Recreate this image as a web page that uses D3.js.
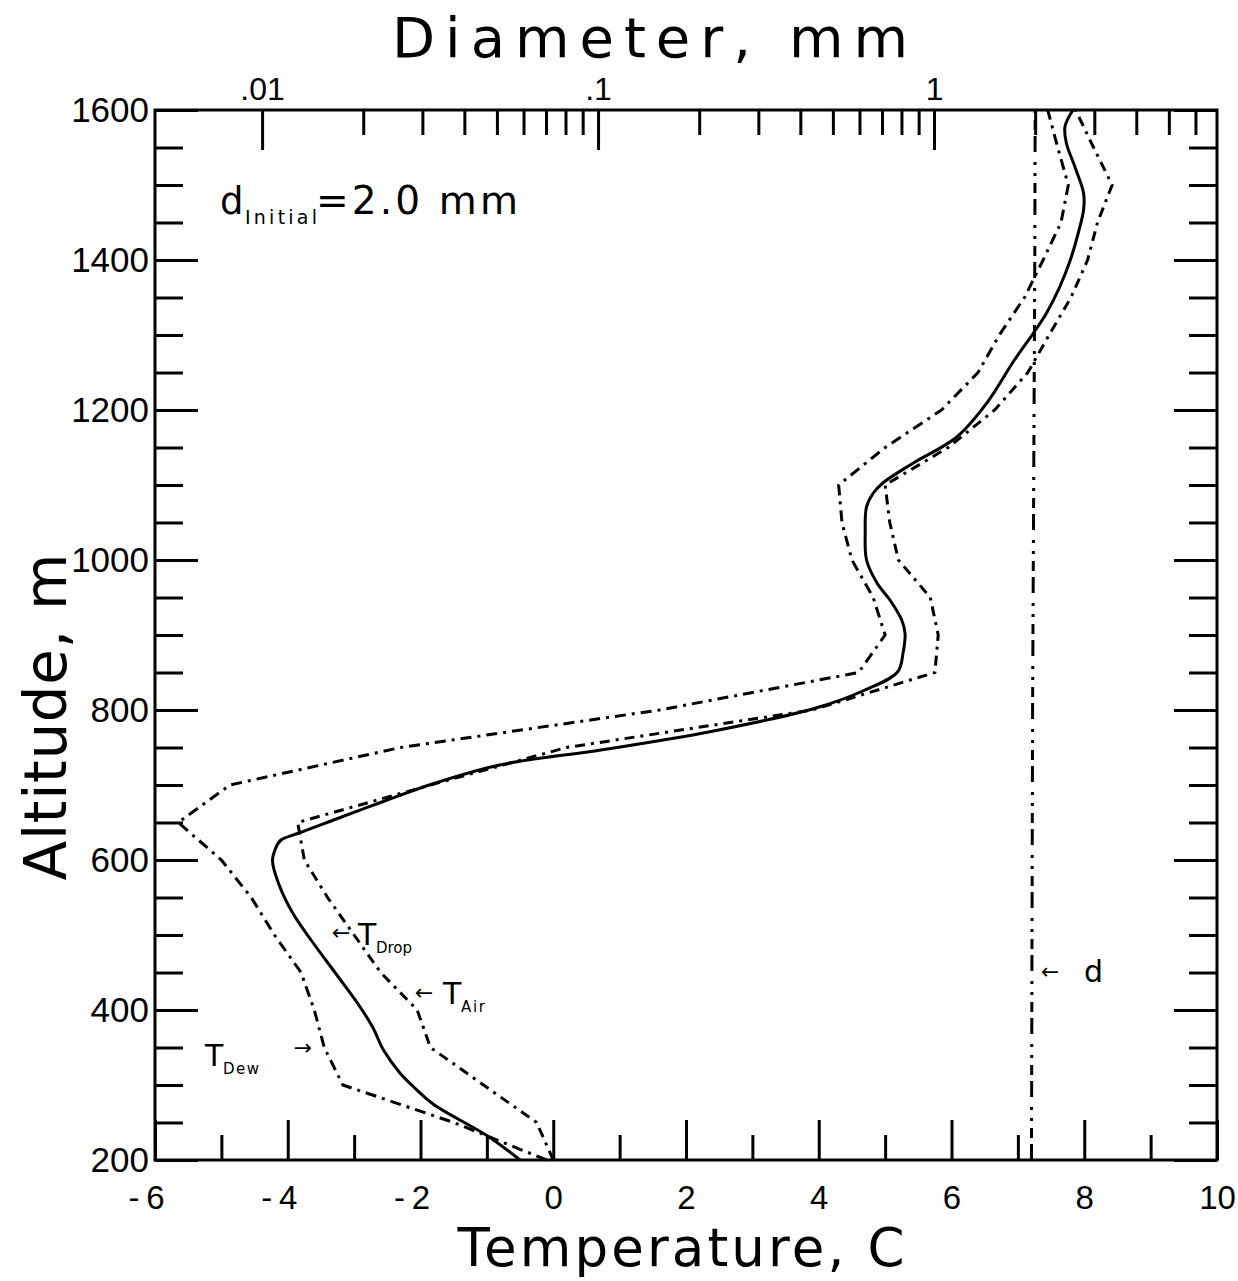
<!DOCTYPE html>
<html><head><meta charset="utf-8">
<script src="https://cdn.jsdelivr.net/npm/d3@7"></script>
<style>body{margin:0;background:#fff}</style>
</head><body>
<svg id="chart" width="1238" height="1281"></svg>
<script>
// ---------------- data ----------------
const altitudes = [200,250,300,350,400,450,500,550,600,650,700,750,800,850,900,950,1000,1050,1100,1150,1200,1250,1300,1350,1400,1450,1500,1550,1600];
const tAir = [0.0,-0.25,-1.05,-1.85,-2.05,-2.6,-3.0,-3.4,-3.75,-3.85,-1.85,0.2,3.9,5.75,5.8,5.68,5.2,5.07,5.0,5.95,6.65,7.15,7.47,7.8,8.05,8.2,8.42,8.14,7.87];
const tDew = [-0.1,-1.5,-3.17,-3.45,-3.6,-3.8,-4.2,-4.55,-5.0,-5.65,-4.87,-2.3,1.6,4.6,5.0,4.82,4.5,4.35,4.3,5.0,5.85,6.4,6.72,7.1,7.38,7.65,7.76,7.6,7.45];
const dropAlt = [200,232,274,298,316,347,377,404,449,491,530,569,599,614,626,636,653,678,702,727,747,771,803,826,851,876,902,920,947,969,1000,1036,1071,1089,1103,1129,1164,1209,1267,1302,1329,1364,1400,1436,1467,1489,1524,1556,1578,1600];
const dropTemp = [-0.5,-0.99,-1.8,-2.11,-2.31,-2.56,-2.72,-2.91,-3.28,-3.63,-3.93,-4.14,-4.23,-4.19,-4.11,-3.83,-3.32,-2.56,-1.8,-0.79,0.74,2.36,3.97,4.68,5.19,5.27,5.3,5.25,5.07,4.88,4.72,4.7,4.72,4.82,4.97,5.42,6.08,6.53,6.95,7.23,7.43,7.63,7.79,7.91,7.99,7.99,7.86,7.73,7.71,7.83];
const diamAlt = [200,400,600,800,1000,1200,1400,1600];
const diamVal = [1.95,1.955,1.96,1.965,1.975,1.985,1.995,2.0];

const tempDomain = [-6,10];
const altDomain = [200,1600];
const diamDomain = [0.0048,6.955];
const tempTicks = d3.range(-6,11,1);
const tempLabels = [-6,-4,-2,0,2,4,6,8,10];
const altTicks = d3.range(200,1601,50);
const altLabels = [200,400,600,800,1000,1200,1400,1600];
const diamTicks = [0.01,0.02,0.03,0.04,0.05,0.06,0.07,0.08,0.09,0.1,0.2,0.3,0.4,0.5,0.6,0.7,0.8,0.9,1,2,3,4,5,6];
const diamLabels = [0.01,0.1,1];
const diamLabelText = [".01",".1","1"];

// ---------------- layout ----------------
const L = 155, R = 1217, T = 110, B = 1160;
const MAJ = 40, MIN = 25;
const svg = d3.select("#chart");
const x = d3.scaleLinear().domain(tempDomain).range([L,R]);
const y = d3.scaleLinear().domain(altDomain).range([B,T]);
const xd = d3.scaleLog().domain(diamDomain).range([L,R]);

const tickFont = "'Liberation Sans', Arial, sans-serif";
const titleFont = "'DejaVu Sans', sans-serif";

function styleAxis(g, size){
  g.select(".domain").remove();
  g.selectAll(".tick line").attr("stroke","#000").attr("stroke-width",3);
  g.selectAll("text").attr("font-family",tickFont).attr("font-size",size||35).attr("fill","#000");
}

// bottom axis
svg.append("g").attr("transform",`translate(0,${B})`)
  .call(d3.axisBottom(x).tickValues(tempTicks.filter(d=>!tempLabels.includes(d))).tickSizeInner(-MIN).tickSizeOuter(0).tickFormat(""))
  .call(styleAxis);
svg.append("g").attr("transform",`translate(0,${B})`)
  .call(d3.axisBottom(x).tickValues(tempLabels).tickSizeInner(-MAJ).tickSizeOuter(0).tickPadding(26)
        .tickFormat(d=> d<0 ? "-\u2009"+Math.abs(d) : String(d)))
  .call(g=>styleAxis(g,33))
  .call(g=>g.selectAll("text").attr("dx",d=>d<0?-9:0));

// left axis
svg.append("g").attr("transform",`translate(${L},0)`)
  .call(d3.axisLeft(y).tickValues(altTicks.filter(d=>!altLabels.includes(d))).tickSizeInner(-MIN-3).tickSizeOuter(0).tickFormat(""))
  .call(styleAxis);
svg.append("g").attr("transform",`translate(${L},0)`)
  .call(d3.axisLeft(y).tickValues(altLabels).tickSizeInner(-MAJ-3).tickSizeOuter(0).tickPadding(6).tickFormat(d3.format("d")))
  .call(styleAxis);

// right axis
svg.append("g").attr("transform",`translate(${R},0)`)
  .call(d3.axisRight(y).tickValues(altTicks.filter(d=>!altLabels.includes(d))).tickSizeInner(-MIN-3).tickSizeOuter(0).tickFormat(""))
  .call(styleAxis);
svg.append("g").attr("transform",`translate(${R},0)`)
  .call(d3.axisRight(y).tickValues(altLabels).tickSizeInner(-MAJ-3).tickSizeOuter(0).tickFormat(""))
  .call(styleAxis);

// top axis (log)
svg.append("g").attr("transform",`translate(0,${T})`)
  .call(d3.axisTop(xd).tickValues(diamTicks.filter(d=>!diamLabels.includes(d))).tickSizeInner(-MIN).tickSizeOuter(0).tickFormat(""))
  .call(styleAxis);
svg.append("g").attr("transform",`translate(0,${T})`)
  .call(d3.axisTop(xd).tickValues(diamLabels).tickSizeInner(-MAJ).tickSizeOuter(0).tickPadding(10)
        .tickFormat((d,i)=>diamLabelText[i]))
  .call(g=>styleAxis(g,32));

// frame
svg.append("rect").attr("x",L).attr("y",T).attr("width",R-L).attr("height",B-T)
  .attr("fill","none").attr("stroke","#000").attr("stroke-width",3);

// ---------------- lines ----------------
const g = svg.append("g").attr("fill","none").attr("stroke","#000").attr("stroke-width",3)
  .attr("stroke-linejoin","round");

const airData = altitudes.map((a,i)=>({a,t:tAir[i]}));
const dewData = altitudes.map((a,i)=>({a,t:tDew[i]}));
const dropData = dropAlt.map((a,i)=>({a,t:dropTemp[i]}));
const diamData = diamAlt.map((a,i)=>({a,d:diamVal[i]}));

const lin = d3.line().x(d=>x(d.t)).y(d=>y(d.a));
g.append("path").attr("d",lin(dewData)).attr("stroke-dasharray","11,6,3,6");
g.append("path").attr("d",lin(airData)).attr("stroke-dasharray","10,6,3,6");
g.append("path").attr("d",d3.line().x(d=>x(d.t)).y(d=>y(d.a)).curve(d3.curveCatmullRom.alpha(0.5))(dropData));
g.append("path").attr("d",d3.line().x(d=>xd(d.d)).y(d=>y(d.a))(diamData))
  .attr("stroke-dasharray","16,6,10,7,3,8,3,10");

// ---------------- titles ----------------
svg.append("text").attr("x",650).attr("y",57).attr("text-anchor","middle")
  .attr("font-family",titleFont).attr("font-size",56).attr("textLength",516)
  .text("Diameter, mm");
svg.append("text").attr("x",681).attr("y",1266).attr("text-anchor","middle")
  .attr("font-family",titleFont).attr("font-size",53).attr("textLength",447)
  .text("Temperature, C");
svg.append("text").attr("transform","translate(66,717) rotate(-90)").attr("text-anchor","middle")
  .attr("font-family",titleFont).attr("font-size",58).attr("textLength",327)
  .text("Altitude, m");

// annotation
const ann = svg.append("g").attr("font-family",titleFont).attr("fill","#000");
ann.append("text").attr("x",220).attr("y",214).attr("font-size",37).text("d");
ann.append("text").attr("x",245).attr("y",224).attr("font-size",19).attr("textLength",72).text("Initial");
ann.append("text").attr("x",316).attr("y",214).attr("font-size",39).attr("textLength",202).text("=2.0 mm");

// curve labels
function label(xT, yT, sub, subW){
  ann.append("text").attr("x",xT).attr("y",yT).attr("font-size",30).text("T");
  ann.append("text").attr("x",xT+18).attr("y",yT+8).attr("font-size",15).attr("textLength",subW).text(sub);
}
function arrow(xa, ya, ch){
  ann.append("text").attr("x",xa).attr("y",ya).attr("font-size",22).attr("text-anchor","middle").text(ch);
}
arrow(341,940,"\u2190"); label(358,945,"Drop",36);
arrow(424,1000,"\u2190"); label(443,1004,"Air",24);
label(205,1066,"Dew",36); arrow(303,1055,"\u2192");
arrow(1050,979,"\u2190");
ann.append("text").attr("x",1084).attr("y",982).attr("font-size",30).text("d");
</script>
</body></html>
